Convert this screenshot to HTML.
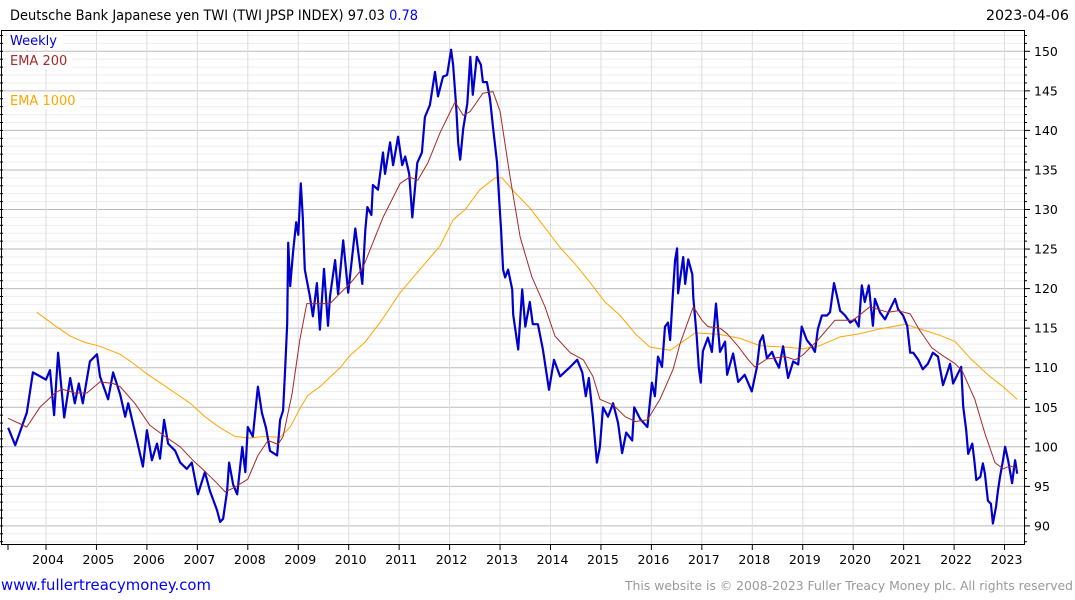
<!DOCTYPE html>
<html><head><meta charset="utf-8">
<style>
html,body{margin:0;padding:0;background:#fff;width:1075px;height:600px;overflow:hidden}
svg{display:block}
text{font-family:"DejaVu Sans","Liberation Sans",sans-serif}
</style></head>
<body>
<svg id="chart" width="1075" height="600">
  <text x="10" y="20" font-size="14" fill="#000" textLength="408" lengthAdjust="spacingAndGlyphs">Deutsche Bank Japanese yen TWI (TWI JPSP INDEX) 97.03 <tspan fill="#0000ff">0.78</tspan></text>
  <text x="1069" y="20" font-size="14.3" fill="#000" text-anchor="end">2023-04-06</text>
  <g id="grid"></g>
  <g id="series"></g>
  <rect x="1.5" y="30.5" width="1023" height="514" fill="none" stroke="#000" stroke-width="1"/>
  <g id="axes"></g>
  <g>
    <rect x="8" y="32" width="55" height="17" fill="#fff"/>
    <text x="10" y="45" font-size="13" fill="#0000cc">Weekly</text>
    <rect x="8" y="52" width="64" height="17" fill="#fff"/>
    <text x="10" y="65" font-size="13" fill="#a52a2a">EMA 200</text>
    <rect x="8" y="92" width="72" height="17" fill="#fff"/>
    <text x="10" y="105" font-size="13" fill="#ffa500">EMA 1000</text>
  </g>
  <text x="1" y="590" font-size="15" fill="#0000ff" textLength="210" lengthAdjust="spacingAndGlyphs">www.fullertreacymoney.com</text>
  <text x="1073" y="590" font-size="12.4" fill="#999" text-anchor="end" textLength="448" lengthAdjust="spacingAndGlyphs">This website is © 2008-2023 Fuller Treacy Money plc. All rights reserved</text>
</svg>
<script>
const yearTicks = [2004,2005,2006,2007,2008,2009,2010,2011,2012,2013,2014,2015,2016,2017,2018,2019,2020,2021,2022,2023];
const valueTicks = [90,95,100,105,110,115,120,125,130,135,140,145,150];
const weeklyDates = [2003.25,2003.39,2003.62,2003.74,2004.0,2004.08,2004.16,2004.24,2004.36,2004.48,2004.57,2004.65,2004.73,2004.87,2005.01,2005.07,2005.23,2005.33,2005.47,2005.57,2005.63,2005.80,2005.92,2006.0,2006.10,2006.20,2006.26,2006.34,2006.42,2006.56,2006.66,2006.79,2006.89,2007.01,2007.15,2007.25,2007.39,2007.45,2007.51,2007.59,2007.63,2007.71,2007.79,2007.89,2007.95,2008.0,2008.10,2008.20,2008.28,2008.36,2008.44,2008.58,2008.64,2008.70,2008.74,2008.78,2008.80,2008.84,2008.90,2008.96,2009.0,2009.05,2009.09,2009.13,2009.23,2009.29,2009.37,2009.43,2009.51,2009.59,2009.63,2009.73,2009.79,2009.89,2009.99,2010.13,2010.27,2010.33,2010.37,2010.45,2010.48,2010.58,2010.68,2010.72,2010.82,2010.88,2010.98,2011.06,2011.12,2011.2,2011.26,2011.36,2011.45,2011.51,2011.61,2011.71,2011.77,2011.87,2011.95,2012.03,2012.07,2012.13,2012.17,2012.21,2012.27,2012.35,2012.41,2012.46,2012.54,2012.62,2012.66,2012.74,2012.80,2012.86,2012.94,2012.98,2013.02,2013.06,2013.10,2013.16,2013.24,2013.26,2013.36,2013.44,2013.50,2013.59,2013.65,2013.75,2013.85,2013.97,2014.07,2014.19,2014.39,2014.53,2014.63,2014.70,2014.76,2014.84,2014.92,2014.98,2015.04,2015.14,2015.24,2015.34,2015.42,2015.50,2015.62,2015.66,2015.78,2015.92,2016.01,2016.07,2016.13,2016.21,2016.27,2016.33,2016.37,2016.43,2016.47,2016.51,2016.53,2016.63,2016.67,2016.73,2016.81,2016.83,2016.90,2016.94,2016.98,2017.02,2017.12,2017.20,2017.28,2017.36,2017.46,2017.50,2017.62,2017.72,2017.85,2017.99,2018.09,2018.15,2018.21,2018.29,2018.39,2018.45,2018.53,2018.61,2018.71,2018.81,2018.91,2018.98,2019.08,2019.18,2019.24,2019.30,2019.38,2019.48,2019.54,2019.62,2019.68,2019.74,2019.84,2019.94,2020.03,2020.11,2020.17,2020.23,2020.31,2020.39,2020.43,2020.53,2020.63,2020.73,2020.83,2020.89,2020.99,2021.07,2021.13,2021.19,2021.29,2021.38,2021.48,2021.58,2021.68,2021.78,2021.86,2021.92,2021.98,2022.08,2022.14,2022.18,2022.24,2022.28,2022.36,2022.40,2022.44,2022.52,2022.57,2022.61,2022.67,2022.73,2022.77,2022.83,2022.87,2022.91,2022.97,2023.01,2023.07,2023.15,2023.21,2023.25];
const weeklyValues = [102.4,100.2,104.3,109.4,108.5,109.7,104.0,111.9,103.7,108.7,105.5,108,105.5,110.8,111.7,108.9,106,109.4,106.6,103.8,105.5,100.9,97.5,102.1,98.3,100.4,98.5,103.4,100.4,99.5,98,97.2,98,94,96.8,94.4,92,90.5,90.9,94.4,98,95.2,94,100,96.8,102.5,101.3,107.6,104.3,102.4,99.5,98.9,103.4,104.6,109.7,115.6,125.8,120.3,124.8,128.4,126.8,133.3,129,122.4,119,116.5,120.7,114.8,122.5,115.3,119,123.6,119.3,126.1,119.5,127.6,120.6,127.4,130.3,129.3,133.1,132.5,137.2,134.5,138.5,135.6,139.2,135.6,136.7,134.5,129,135.9,137.2,141.7,143.2,147.4,144.3,146.8,147,150.2,148.3,143,138.4,136.3,140.2,143.4,149.3,144.5,149.3,148.3,146.1,146.1,144,140.4,136,131.6,127.4,122.4,121.4,122.4,119.9,116.7,112.3,119.9,115.2,118.3,115.5,115.5,112.3,107.2,111,108.9,110.1,111,109.4,106.4,108.7,103.8,98,100,105,103.8,105.5,103,99.2,101.8,100.8,105,103.5,102.5,108.1,106.4,111.4,110.1,115.2,115.7,113.5,119.8,123.6,125.1,119.4,124,120.6,123.7,121.8,118.9,113.8,110,108.1,112.1,113.8,112,118.1,112,113.3,109.1,111.8,108.2,109.1,107,110,113.3,114.1,111.2,112,111,110,112.7,108.7,110.8,110.4,115.2,113.5,112.7,112,114.9,116.6,116.6,117,120.7,119,117.2,116.6,115.7,116.1,115.2,120.4,118.3,120.4,115.3,118.7,117,116.1,117.4,118.7,117.4,116.6,115.3,111.9,111.9,111,109.8,110.5,111.9,111.4,107.8,109.3,110.5,108,109.3,110.1,105.1,102.1,99.1,100.4,98.3,95.8,96.2,97.9,96.6,93.2,92.8,90.3,92.4,94.5,96.2,98.3,100,98.3,95.4,98.3,96.6];
const ema200Dates = [2003.25,2003.62,2003.88,2004.18,2004.32,2004.57,2004.81,2005.07,2005.33,2005.47,2005.76,2006.06,2006.36,2006.66,2006.91,2007.15,2007.39,2007.55,2007.75,2008.0,2008.20,2008.40,2008.60,2008.70,2008.88,2009.03,2009.17,2009.43,2009.63,2009.83,2010.02,2010.28,2010.68,2011.02,2011.21,2011.37,2011.57,2011.81,2012.11,2012.27,2012.41,2012.66,2012.86,2013.0,2013.20,2013.40,2013.63,2013.89,2014.09,2014.39,2014.65,2014.84,2014.98,2015.24,2015.48,2015.68,2015.92,2016.17,2016.43,2016.57,2016.83,2017.0,2017.12,2017.36,2017.50,2017.72,2017.92,2018.05,2018.29,2018.65,2018.85,2019.0,2019.30,2019.64,2020.0,2020.33,2020.69,2020.89,2021.13,2021.32,2021.56,2021.78,2022.02,2022.16,2022.41,2022.61,2022.81,2022.97,2023.11,2023.25];
const ema200Values = [103.6,102.5,105,106.8,107.3,106.8,106.8,108.2,108,107.6,105.5,102.7,101.3,100,98.3,96.9,95.4,94.3,94.9,95.9,98.9,100.8,100.3,101.3,106.8,113.5,118.1,118.1,118.1,119.4,120.6,122.6,129,133.3,134.1,133.7,135.9,139.7,143.6,141.9,142.4,144.7,144.9,142.4,134.1,126.5,121.5,117.7,114,111.9,111,108.9,106,105.3,103.8,103.2,103.4,106,109.8,113.1,117.7,116,115.2,115,114.3,112.7,111,110.1,111.1,111.4,111,111.6,113.5,116,116,117.7,117,117.2,116.8,114.7,112.5,111.5,110.5,109.6,106,101.7,98,97.2,97.6,97.2];
const ema1000Dates = [2003.82,2004.18,2004.48,2004.77,2005.07,2005.47,2005.72,2005.96,2006.26,2006.56,2006.86,2007.15,2007.45,2007.75,2008.04,2008.30,2008.64,2008.84,2009.03,2009.19,2009.43,2009.83,2010.02,2010.32,2010.62,2011.02,2011.41,2011.81,2012.07,2012.31,2012.60,2012.90,2013.04,2013.30,2013.59,2013.89,2014.19,2014.49,2014.78,2015.08,2015.38,2015.68,2015.97,2016.37,2016.87,2017.36,2017.76,2018.15,2018.65,2019.0,2019.34,2019.74,2020.13,2020.53,2021.03,2021.32,2021.72,2022.02,2022.32,2022.67,2022.97,2023.25];
const ema1000Values = [117,115.3,114,113.2,112.7,111.7,110.6,109.4,108.1,106.8,105.5,103.8,102.4,101.3,101.1,101.3,101.2,102.5,104.8,106.5,107.6,110,111.5,113.2,115.7,119.5,122.4,125.4,128.7,130,132.5,134,134,132.1,130.2,127.7,125.2,123.1,120.8,118.3,116.6,114.3,112.6,112.2,114.4,114.2,113.7,112.8,112.6,112.4,112.8,113.9,114.3,114.9,115.5,114.9,114.1,113.3,111.2,109.1,107.6,106];

const NS = "http://www.w3.org/2000/svg";
const X0 = 46, PXYR = 50.45, Y150 = 51.3, PXU = 7.91;
function xScale(t){ return X0 + (t - 2004) * PXYR; }
function yScale(v){ return Y150 + (150 - v) * PXU; }
function mk(tag, attrs, parent){ const e = document.createElementNS(NS, tag); for (const k in attrs) e.setAttribute(k, attrs[k]); parent.appendChild(e); return e; }

const grid = document.getElementById('grid');
const axes = document.getElementById('axes');
for (let v = 88; v <= 152; v++) {
  const y = yScale(v);
  if (y < 31 || y > 544) continue;
  const major = v % 5 === 0;
  const l = mk('line', {x1: 2, x2: 1025, y1: y, y2: y, stroke: major ? '#bbbbbb' : '#eeeeee', 'stroke-width': 1}, grid);
  
  
  const tk = mk('line', {x1: 1025, x2: major ? 1030 : 1027, y1: y, y2: y, stroke: '#000'}, axes);
  
  
  const lt = mk('line', {x1: 0, x2: 3, y1: y, y2: y, stroke: '#000'}, axes);
  
  
}
valueTicks.forEach(v => {
  const t = mk('text', {x: 1034, y: yScale(v) + 4.5, 'font-size': 12.5, fill: '#000'}, axes);
  t.textContent = v;
  
  
});
yearTicks.forEach(yr => {
  const x = xScale(yr);
  const g = mk('line', {x1: x, x2: x, y1: 31, y2: 544, stroke: '#dddddd'}, grid);
  
  
  const tk = mk('line', {x1: x, x2: x, y1: 545, y2: 550, stroke: '#000'}, axes);
  
  
  const t = mk('text', {x: x + 2, y: 564, 'font-size': 12.5, fill: '#000', 'text-anchor': 'middle'}, axes);
  t.textContent = yr;
  
  
});
const t0 = mk('line', {x1: 8, x2: 8, y1: 545, y2: 550, stroke: '#000'}, axes);



const series = document.getElementById('series');
function path(dates, vals, color, w, name){
  const d = dates.map((t, i) => (i ? 'L' : 'M') + xScale(t).toFixed(1) + ' ' + yScale(vals[i]).toFixed(1)).join(' ');
  const p = mk('path', {d: d, fill: 'none', stroke: color, 'stroke-width': w, 'stroke-linejoin': 'round'}, series);
  
  
}
path(ema1000Dates, ema1000Values, '#ffa500', 1, 'ema-1000-line');
path(weeklyDates, weeklyValues, '#0000cc', 2.2, 'weekly-line');
path(ema200Dates, ema200Values, '#a52a2a', 1, 'ema-200-line');
</script>
</body></html>
